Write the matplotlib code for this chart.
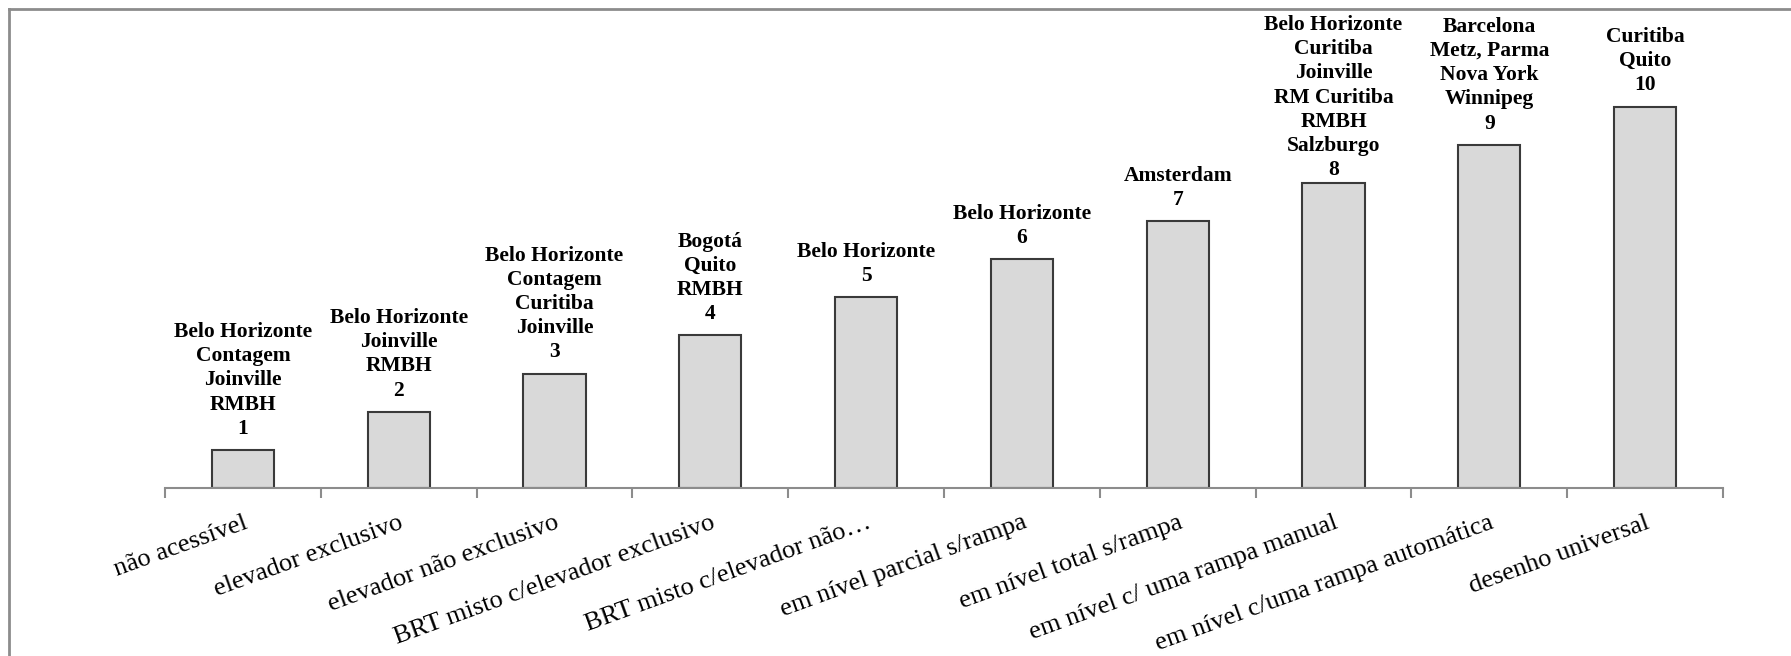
import matplotlib
matplotlib.use("Agg")
import matplotlib.pyplot as plt
from matplotlib.lines import Line2D

categories = [
    "não acessível",
    "elevador exclusivo",
    "elevador não exclusivo",
    "BRT misto c/elevador exclusivo",
    "BRT misto c/elevador não…",
    "em nível parcial s/rampa",
    "em nível total s/rampa",
    "em nível c/ uma rampa manual",
    "em nível c/uma rampa automática",
    "desenho universal",
]
values = [1, 2, 3, 4, 5, 6, 7, 8, 9, 10]
cities = [
    ["Belo Horizonte", "Contagem", "Joinville", "RMBH"],
    ["Belo Horizonte", "Joinville", "RMBH"],
    ["Belo Horizonte", "Contagem", "Curitiba", "Joinville"],
    ["Bogotá", "Quito", "RMBH"],
    ["Belo Horizonte"],
    ["Belo Horizonte"],
    ["Amsterdam"],
    ["Belo Horizonte", "Curitiba", "Joinville", "RM Curitiba", "RMBH", "Salzburgo"],
    ["Barcelona", "Metz, Parma", "Nova York", "Winnipeg"],
    ["Curitiba", "Quito"],
]

W, H, DPI = 1791, 656, 100
fig = plt.figure(figsize=(W / DPI, H / DPI), dpi=DPI)
fig.patch.set_facecolor("white")

ax_left, ax_right = 165 / W, 1723 / W
ax_bottom = (H - 488) / H
ax_top = 1 - 20 / H
ax = fig.add_axes([ax_left, ax_bottom, ax_right - ax_left, ax_top - ax_bottom])

x = list(range(len(categories)))
bars = ax.bar(x, values, width=0.40, color="#d9d9d9", edgecolor="#3a3a3a",
              linewidth=1.5, zorder=3)

ax.set_xlim(-0.5, len(categories) - 0.5)
ax.set_ylim(0, 468 / 38.15)

for s in ["top", "right", "left"]:
    ax.spines[s].set_visible(False)
ax.spines["bottom"].set_color("#8c8c8c")
ax.spines["bottom"].set_linewidth(1.5)
ax.spines["bottom"].set_zorder(4)
ax.set_yticks([])

ax.set_xticks(x)
ax.set_xticks([i - 0.5 for i in range(len(categories) + 1)], minor=True)
ax.tick_params(axis="x", which="major", length=0, pad=17)
ax.tick_params(axis="x", which="minor", length=7, width=1.5, color="#8c8c8c",
               direction="out")
ax.set_xticklabels(categories, rotation=20, ha="right", va="top",
                   rotation_mode="anchor", fontsize=19,
                   family="Liberation Serif")

texts = []
for xi, v, names in zip(x, values, cities):
    label = "\n".join(names + [str(v)])
    t = ax.annotate(label, xy=(xi, v), xytext=(0, 8), textcoords="offset points",
                    ha="center", va="bottom", multialignment="center",
                    fontsize=15.5, fontweight="bold", family="Liberation Serif",
                    linespacing=1.28, annotation_clip=False, zorder=5)
    texts.append(t)

# keep labels inside the chart area (pushed down like the original)
fig.canvas.draw()
r = fig.canvas.get_renderer()
limit = H - 15
for t in texts:
    bb = t.get_window_extent(r)
    if bb.y1 > limit:
        shift = (bb.y1 - limit) * 72 / DPI
        ox, oy = t.xyann
        t.xyann = (ox, oy - shift)

# chart frame lines (top and left)
fig.add_artist(Line2D([9 / W, 1.0], [1 - 9 / H, 1 - 9 / H], color="#8c8c8c",
                      linewidth=2.0, transform=fig.transFigure))
fig.add_artist(Line2D([9 / W, 9 / W], [0.0, 1 - 9 / H], color="#8c8c8c",
                      linewidth=2.0, transform=fig.transFigure))

fig.savefig("out.png", dpi=DPI, facecolor="white")
